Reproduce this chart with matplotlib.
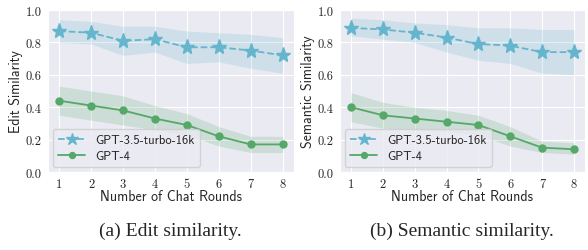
import matplotlib
matplotlib.use("Agg")
import matplotlib.pyplot as plt
import seaborn as sns

rounds = [1, 2, 3, 4, 5, 6, 7, 8]

# (a) edit similarity
edit_gpt35 = [0.87, 0.86, 0.81, 0.82, 0.77, 0.77, 0.75, 0.72]
edit_gpt35_hi = [0.94, 0.93, 0.90, 0.90, 0.87, 0.86, 0.85, 0.83]
edit_gpt35_lo = [0.80, 0.79, 0.72, 0.74, 0.67, 0.68, 0.64, 0.61]
edit_gpt4 = [0.44, 0.41, 0.38, 0.33, 0.29, 0.22, 0.17, 0.17]
edit_gpt4_hi = [0.53, 0.50, 0.47, 0.41, 0.36, 0.28, 0.22, 0.22]
edit_gpt4_lo = [0.35, 0.32, 0.29, 0.26, 0.23, 0.16, 0.12, 0.12]

# (b) semantic similarity
sem_gpt35 = [0.89, 0.88, 0.86, 0.83, 0.79, 0.78, 0.74, 0.74]
sem_gpt35_hi = [0.95, 0.94, 0.92, 0.91, 0.89, 0.89, 0.88, 0.88]
sem_gpt35_lo = [0.84, 0.82, 0.80, 0.74, 0.69, 0.67, 0.61, 0.60]
sem_gpt4 = [0.40, 0.35, 0.33, 0.31, 0.29, 0.22, 0.15, 0.14]
sem_gpt4_hi = [0.49, 0.43, 0.40, 0.38, 0.35, 0.28, 0.19, 0.18]
sem_gpt4_lo = [0.31, 0.27, 0.26, 0.25, 0.23, 0.16, 0.12, 0.11]

yticks = [0.0, 0.2, 0.4, 0.6, 0.8, 1.0]

blue = "#64b5cd"
green = "#55a868"

sns.set_style("darkgrid")
plt.rcParams["font.family"] = ["cmss10", "DejaVu Sans"]
plt.rcParams["axes.unicode_minus"] = False


def draw(ax, y35, lo35, hi35, y4, lo4, hi4, ylabel):
    ax.fill_between(rounds, lo35, hi35, color=blue, alpha=0.2, linewidth=0)
    ax.fill_between(rounds, lo4, hi4, color=green, alpha=0.2, linewidth=0)
    ax.plot(rounds, y35, color=blue, linestyle="--", marker="*",
            markersize=11, linewidth=1.3, label="GPT-3.5-turbo-16k")
    ax.plot(rounds, y4, color=green, linestyle="-", marker="o",
            markersize=5, linewidth=1.3, label="GPT-4")
    ax.set_ylim(0, 1.0)
    ax.set_xticks(rounds)
    ax.set_yticks(yticks)
    ax.set_xticklabels([str(r) for r in rounds], family="cmr10")
    ax.set_yticklabels(["%.1f" % v for v in yticks], family="cmr10")
    ax.tick_params(labelsize=9, pad=1, colors="#262626")
    ax.set_xlabel("Number of Chat Rounds", fontsize=10, labelpad=-1)
    ax.set_ylabel(ylabel, fontsize=10, labelpad=2)
    leg = ax.legend(loc="lower left", fontsize=9, frameon=True,
                    borderaxespad=0.4, handlelength=2.2, labelspacing=0.3,
                    markerscale=0.85)
    leg.get_frame().set_edgecolor("#cccccc")


fig = plt.figure(figsize=(5.88, 2.51), dpi=100)
ax1 = fig.add_axes([0.0816, 0.311, 0.418, 0.645])
ax2 = fig.add_axes([0.578, 0.311, 0.417, 0.645])

draw(ax1, edit_gpt35, edit_gpt35_lo, edit_gpt35_hi,
     edit_gpt4, edit_gpt4_lo, edit_gpt4_hi, "Edit Similarity")
draw(ax2, sem_gpt35, sem_gpt35_lo, sem_gpt35_hi,
     sem_gpt4, sem_gpt4_lo, sem_gpt4_hi, "Semantic Similarity")

fig.text(0.29, 0.08, "(a) Edit similarity.", ha="center", va="center",
         fontsize=14, family="Liberation Serif")
fig.text(0.785, 0.08, "(b) Semantic similarity.", ha="center", va="center",
         fontsize=14, family="Liberation Serif")

fig.savefig("out.png", dpi=100)
